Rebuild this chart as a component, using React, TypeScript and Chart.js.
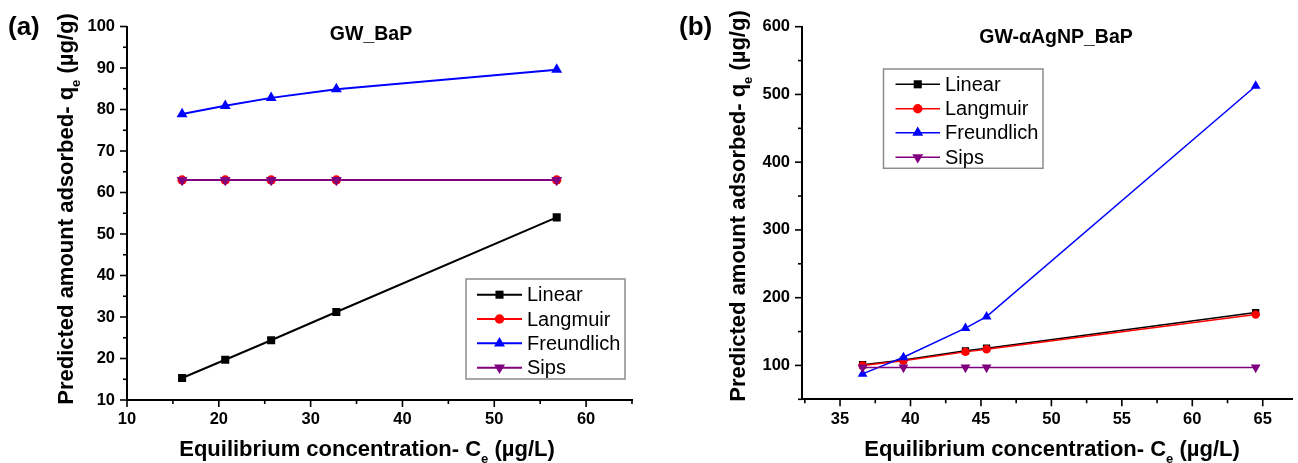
import React, { useEffect, useRef } from 'react';
import { Chart, registerables } from 'chart.js';

Chart.register(...registerables);

// ---------- data ----------
const seriesNames = ['Linear', 'Langmuir', 'Freundlich', 'Sips'];

// panel (a) GW_BaP
const leftX = [16.0, 20.7, 25.7, 32.8, 56.8];
const leftLinear = [15.3, 19.7, 24.4, 31.2, 54.0];
const leftLangmuir = [63, 63, 63, 63, 63];
const leftFreundlich = [78.9, 80.9, 82.8, 84.9, 89.6];
const leftSips = [63, 63, 63, 63, 63];

// panel (b) GW-αAgNP_BaP
const rightX = [36.6, 39.5, 43.9, 45.4, 64.5];
const rightLinear = [101, 108, 121.5, 125.5, 178];
const rightLangmuir = [100, 107, 120, 124, 175];
const rightFreundlich = [87.5, 112, 155, 172, 512.5];
const rightSips = [97, 97, 97, 97, 97];

// tick labels (major) and minor tick positions
const leftXMajor = [10, 20, 30, 40, 50, 60];
const leftXMinor = [15, 25, 35, 45, 55, 65];
const leftYMajor = [10, 20, 30, 40, 50, 60, 70, 80, 90, 100];
const leftYMinor = [15, 25, 35, 45, 55, 65, 75, 85, 95];
const rightXMajor = [35, 40, 45, 50, 55, 60, 65];
const rightXMinor = [32.5, 37.5, 42.5, 47.5, 52.5, 57.5, 62.5];
const rightYMajor = [100, 200, 300, 400, 500, 600];
const rightYMinor = [50, 150, 250, 350, 450, 550];

const FF = '"Liberation Sans", Arial, Helvetica, sans-serif';

const seriesStyles = [
  { color: '#000000', pointStyle: 'rect', rotation: 0, radius: 5.7 },
  { color: '#ff0000', pointStyle: 'circle', rotation: 0, radius: 4.7 },
  { color: '#0000ff', pointStyle: 'triangle', rotation: 0, radius: 6.3 },
  { color: '#800080', pointStyle: 'triangle', rotation: 180, radius: 6.3 },
];

function drawMarker(ctx: CanvasRenderingContext2D, style: any, x: number, y: number, scale = 1) {
  const r = style.radius * scale;
  ctx.save();
  ctx.fillStyle = style.color;
  ctx.beginPath();
  if (style.pointStyle === 'rect') {
    const s = Math.SQRT1_2 * r;
    ctx.rect(x - s, y - s, 2 * s, 2 * s);
  } else if (style.pointStyle === 'circle') {
    ctx.arc(x, y, r, 0, Math.PI * 2);
  } else {
    let rad = (style.rotation * Math.PI) / 180;
    ctx.moveTo(x + Math.sin(rad) * r, y - Math.cos(rad) * r);
    rad += (2 * Math.PI) / 3;
    ctx.lineTo(x + Math.sin(rad) * r, y - Math.cos(rad) * r);
    rad += (2 * Math.PI) / 3;
    ctx.lineTo(x + Math.sin(rad) * r, y - Math.cos(rad) * r);
    ctx.closePath();
  }
  ctx.fill();
  ctx.restore();
}

function drawRich(
  ctx: CanvasRenderingContext2D,
  parts: [string, boolean][],
  cx: number,
  cy: number,
  size: number,
  rotate: boolean
) {
  ctx.save();
  ctx.translate(cx, cy);
  if (rotate) ctx.rotate(-Math.PI / 2);
  ctx.fillStyle = '#000';
  ctx.textBaseline = 'alphabetic';
  ctx.textAlign = 'left';
  const mainFont = `bold ${size}px ${FF}`;
  const subFont = `bold ${Math.round(size * 0.6)}px ${FF}`;
  const widths = parts.map(([t, sub]) => {
    ctx.font = sub ? subFont : mainFont;
    return ctx.measureText(t).width;
  });
  const total = widths.reduce((a, b) => a + b, 0);
  let x = -total / 2;
  parts.forEach(([t, sub], i) => {
    ctx.font = sub ? subFont : mainFont;
    ctx.fillText(t, x, sub ? size * 0.3 : 0);
    x += widths[i];
  });
  ctx.restore();
}

const decorPlugin = {
  id: 'decor',
  afterDraw(chart: any, _args: any, opts: any) {
    const ctx: CanvasRenderingContext2D = chart.ctx;
    const xs = chart.scales.x;
    const ys = chart.scales.y;
    ctx.save();
    // tick marks (outward), major longer than minor
    ctx.strokeStyle = '#000';
    ctx.lineWidth = opts.tickWidth;
    for (const t of xs.ticks) {
      const px = xs.getPixelForValue(t.value);
      const len = opts.majorX.includes(t.value) ? 7 : 4;
      ctx.beginPath();
      ctx.moveTo(px, xs.top);
      ctx.lineTo(px, xs.top + len);
      ctx.stroke();
    }
    for (const t of ys.ticks) {
      const py = ys.getPixelForValue(t.value);
      const len = opts.majorY.includes(t.value) ? 7 : 4;
      ctx.beginPath();
      ctx.moveTo(ys.right, py);
      ctx.lineTo(ys.right - len, py);
      ctx.stroke();
    }

    // panel label
    ctx.fillStyle = '#000';
    ctx.font = `bold 26px ${FF}`;
    ctx.textAlign = 'left';
    ctx.textBaseline = 'alphabetic';
    ctx.fillText(opts.panelLabel, opts.panelX, opts.panelY);

    // in-plot title
    ctx.font = `bold 19.5px ${FF}`;
    ctx.textAlign = 'center';
    ctx.fillText(opts.title, opts.titleX, opts.titleY);

    // axis titles
    drawRich(
      ctx,
      [['Equilibrium concentration- C', false], ['e', true], [' (\u00b5g/L)', false]],
      opts.xTitleX,
      opts.xTitleY,
      22,
      false
    );
    drawRich(
      ctx,
      [['Predicted amount adsorbed- q', false], ['e', true], [' (\u00b5g/g)', false]],
      opts.yTitleX,
      opts.yTitleY,
      22,
      true
    );

    // legend
    const L = opts.legend;
    ctx.strokeStyle = '#8c8c8c';
    ctx.lineWidth = 1.5;
    ctx.strokeRect(L.x, L.y, L.w, L.h);
    ctx.font = `20px ${FF}`;
    ctx.textAlign = 'left';
    ctx.textBaseline = 'middle';
    seriesNames.forEach((name, i) => {
      const st = seriesStyles[i];
      const y = L.rows[i];
      ctx.strokeStyle = st.color;
      ctx.lineWidth = L.lw;
      ctx.beginPath();
      ctx.moveTo(L.lx1, y);
      ctx.lineTo(L.lx2, y);
      ctx.stroke();
      drawMarker(ctx, st, (L.lx1 + L.lx2) / 2, y, 1);
      ctx.fillStyle = '#000';
      ctx.fillText(name, L.tx, y + 1);
    });
    ctx.restore();
  },
};

function makeDatasets(xs: number[], ys: number[][], lineWidth: number, radiusScale: number) {
  return ys.map((vals, i) => {
    const st = seriesStyles[i];
    return {
      label: seriesNames[i],
      data: xs.map((x, j) => ({ x, y: vals[j] })),
      borderColor: st.color,
      backgroundColor: st.color,
      borderWidth: lineWidth,
      pointStyle: st.pointStyle,
      pointRotation: st.rotation,
      pointRadius: st.radius * radiusScale,
      pointBorderWidth: 0,
      pointBackgroundColor: st.color,
      pointHoverRadius: st.radius * radiusScale,
      tension: 0,
      order: 3 - i,
    };
  });
}

function makeOptions(cfg: any) {
  const tickFont = { family: FF, size: 16.5, weight: 'bold' as const };
  return {
    animation: false,
    responsive: false,
    devicePixelRatio: 1,
    events: [],
    layout: { padding: { top: cfg.padTop, right: cfg.padRight, left: 0, bottom: 0 } },
    plugins: {
      legend: { display: false },
      tooltip: { enabled: false },
      title: { display: false },
      decor: cfg.decor,
    },
    scales: {
      x: {
        type: 'linear',
        min: cfg.xMin,
        max: cfg.xMax,
        afterFit: (s: any) => {
          s.height = cfg.xAxisH;
        },
        afterBuildTicks: (s: any) => {
          s.ticks = [...cfg.xMajor, ...cfg.xMinor].sort((a, b) => a - b).map((v) => ({ value: v }));
        },
        ticks: {
          autoSkip: false,
          maxRotation: 0,
          minRotation: 0,
          padding: 3,
          color: '#000',
          font: tickFont,
          callback: (v: number) => (cfg.xMajor.includes(v) ? String(v) : ''),
        },
        grid: {
          display: true,
          drawOnChartArea: false,
          drawTicks: true,
          tickLength: 7,
          tickColor: 'rgba(0,0,0,0)',
        },
        border: { display: true, color: '#000', width: cfg.axisWidth },
      },
      y: {
        type: 'linear',
        min: cfg.yMin,
        max: cfg.yMax,
        afterFit: (s: any) => {
          s.width = cfg.yAxisW;
        },
        afterBuildTicks: (s: any) => {
          s.ticks = [...cfg.yMajor, ...cfg.yMinor].sort((a, b) => a - b).map((v) => ({ value: v }));
        },
        ticks: {
          autoSkip: false,
          padding: 5,
          color: '#000',
          font: tickFont,
          callback: (v: number) => (cfg.yMajor.includes(v) ? String(v) : ''),
        },
        grid: {
          display: true,
          drawOnChartArea: false,
          drawTicks: true,
          tickLength: 7,
          tickColor: 'rgba(0,0,0,0)',
        },
        border: { display: true, color: '#000', width: cfg.axisWidth },
      },
    },
  };
}

const leftCfg = {
  xMin: 10,
  xMax: 65,
  yMin: 10,
  yMax: 100,
  xMajor: leftXMajor,
  xMinor: leftXMinor,
  yMajor: leftYMajor,
  yMinor: leftYMinor,
  xAxisH: 63,
  yAxisW: 127,
  padTop: 26.5,
  padRight: 17,
  axisWidth: 2,
  decor: {
    majorX: leftXMajor,
    majorY: leftYMajor,
    tickWidth: 1.6,
    panelLabel: '(a)',
    panelX: 8,
    panelY: 35,
    title: 'GW_BaP',
    titleX: 371,
    titleY: 40,
    xTitleX: 367,
    xTitleY: 456,
    yTitleX: 73,
    yTitleY: 209,
    legend: { x: 466, y: 279, w: 159, h: 100, rows: [294.7, 319, 343.3, 367.7], lx1: 477, lx2: 522, tx: 527, lw: 2 },
  },
};

const rightCfg = {
  xMin: 32.3,
  xMax: 67.1,
  yMin: 50,
  yMax: 600,
  xMajor: rightXMajor,
  xMinor: rightXMinor,
  yMajor: rightYMajor,
  yMinor: rightYMinor,
  xAxisH: 63.7,
  yAxisW: 153,
  padTop: 26.7,
  padRight: 0,
  axisWidth: 2,
  decor: {
    majorX: rightXMajor,
    majorY: rightYMajor,
    tickWidth: 1.6,
    panelLabel: '(b)',
    panelX: 30,
    panelY: 35,
    title: 'GW-\u03b1AgNP_BaP',
    titleX: 407,
    titleY: 43,
    xTitleX: 403,
    xTitleY: 456,
    yTitleX: 96,
    yTitleY: 206,
    legend: { x: 234.5, y: 69, w: 159.5, h: 99.3, rows: [84.3, 108.7, 132.7, 157.3], lx1: 246.5, lx2: 291, tx: 296, lw: 1.5 },
  },
};

function Panel({ cfg, xs, ys, lineWidth, radiusScale, left }: any) {
  const ref = useRef<HTMLCanvasElement | null>(null);
  useEffect(() => {
    if (!ref.current) return;
    const chart = new Chart(ref.current, {
      type: 'line',
      data: { datasets: makeDatasets(xs, ys, lineWidth, radiusScale) as any },
      options: makeOptions(cfg) as any,
      plugins: [decorPlugin as any],
    });
    return () => chart.destroy();
  }, []);
  return (
    <canvas
      ref={ref}
      width={649}
      height={463}
      style={{ position: 'absolute', left, top: 0, width: 649, height: 463 }}
    />
  );
}

export default function App() {
  return (
    <div
      style={{
        position: 'fixed',
        left: 0,
        top: 0,
        width: 1298,
        height: 463,
        background: '#ffffff',
        overflow: 'hidden',
      }}
    >
      <Panel
        cfg={leftCfg}
        xs={leftX}
        ys={[leftLinear, leftLangmuir, leftFreundlich, leftSips]}
        lineWidth={2}
        radiusScale={1}
        left={0}
      />
      <Panel
        cfg={rightCfg}
        xs={rightX}
        ys={[rightLinear, rightLangmuir, rightFreundlich, rightSips]}
        lineWidth={1.5}
        radiusScale={0.9}
        left={649}
      />
    </div>
  );
}
